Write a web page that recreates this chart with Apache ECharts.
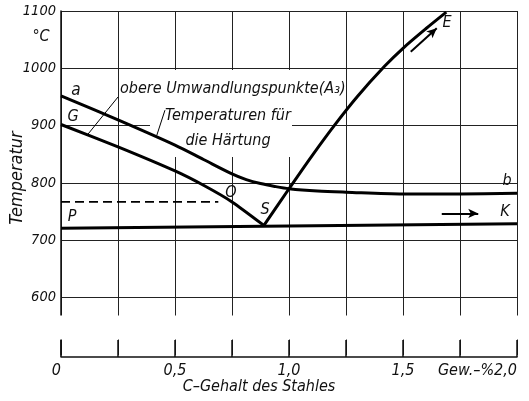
<!DOCTYPE html>
<html>
<head>
<meta charset="utf-8">
<script src="https://cdn.jsdelivr.net/npm/echarts@6/dist/echarts.min.js"></script>
<style>html,body{margin:0;padding:0;background:#fff;}#c{width:529px;height:401px;}</style>
</head>
<body>
<div id="c"></div>
<script>
// ---- data (C-Gehalt in Gew.-%, Temperatur in °C) ----
const aC = [0, 0.25, 0.5, 0.625, 0.75, 0.8125, 0.875, 0.9375, 1.0, 1.125, 1.25, 1.5, 1.75, 2.0];
const aT = [952, 910, 866, 841, 816, 806, 799, 794, 790, 786, 784, 781, 781, 782];
const gC = [0, 0.25, 0.5, 0.625, 0.75, 0.89];
const gT = [902, 863, 821, 796, 767, 726];
const eC = [0.89, 1.0, 1.1, 1.2, 1.3, 1.42, 1.5, 1.6, 1.69];
const eT = [726, 790, 847, 901, 951, 1004, 1035, 1069, 1098];
const kC = [0, 1.0, 2.0];
const kT = [721, 725, 729];
const dashC = [0, 0.69];
const dashT = [767, 767];
const leader1C = [0.25, 0.118];
const leader1T = [950, 885];
const leader2C = [0.456, 0.42];
const leader2T = [927, 883];
const arrowE = [[1.534, 1029], [1.648, 1070]];
const arrowK = [[1.67, 747], [1.83, 747]];
const xLabelValues = [0, 0.5, 1, 1.5, 2];
const xLabelTexts = ['0', '0,5', '1,0', '1,5', 'Gew.–%2,0'];
const yLabelValues = [600, 700, 800, 900, 1000, 1100];

const FF = "'DejaVu Sans Condensed', 'DejaVu Sans', sans-serif";
const pairs = (xs, ys) => xs.map((x, i) => [x, ys[i]]);

const chart = echarts.init(document.getElementById('c'), null, {renderer: 'canvas'});

function txt(text, x, y, size, align, valign, rot) {
  return {
    type: 'text', x: x, y: y, rotation: rot || 0, z: 5,
    style: {
      text: text, fill: '#111', fontFamily: FF, fontStyle: 'italic',
      fontSize: size, textAlign: align || 'center', textVerticalAlign: valign || 'middle'
    }
  };
}

const curveStyle = {color: '#000', width: 3};

const option = {
  animation: false,
  backgroundColor: '#fff',
  grid: {left: 61, right: 12, top: 11, bottom: 46},
  xAxis: {
    type: 'value', min: 0, max: 2, interval: 0.25, offset: 2,
    axisLine: {show: true, lineStyle: {color: '#111', width: 1.5}},
    axisTick: {show: true, inside: true, length: 17, lineStyle: {color: '#111', width: 1.5}},
    axisLabel: {
      color: '#111', fontFamily: FF, fontStyle: 'italic', fontSize: 16, margin: 6,
      alignMinLabel: 'right', alignMaxLabel: 'right',
      formatter: function (v) {
        for (let i = 0; i < xLabelValues.length; i++) {
          if (Math.abs(v - xLabelValues[i]) < 1e-6) return xLabelTexts[i];
        }
        return '';
      }
    },
    splitLine: {show: true, lineStyle: {color: '#222', width: 1}}
  },
  yAxis: {
    type: 'value', min: 500, max: 1100, interval: 100,
    axisLine: {show: true, lineStyle: {color: '#111', width: 1.5}},
    axisTick: {show: false},
    axisLabel: {
      color: '#111', fontFamily: FF, fontStyle: 'italic', fontSize: 14.5, margin: 5,
      formatter: function (v) { return yLabelValues.indexOf(v) >= 0 ? String(v) : ''; }
    },
    splitLine: {show: true, showMinLine: false, lineStyle: {color: '#222', width: 1}}
  },
  series: [
    {type: 'line', data: pairs(aC, aT), symbol: 'none', smooth: 0.3, lineStyle: curveStyle, z: 3},
    {type: 'line', data: pairs(gC, gT), symbol: 'none', smooth: 0.2, lineStyle: curveStyle, z: 3},
    {type: 'line', data: pairs(eC, eT), symbol: 'none', smooth: 0.3, lineStyle: curveStyle, z: 3},
    {type: 'line', data: pairs(kC, kT), symbol: 'none', lineStyle: curveStyle, z: 3,
      markLine: {
        silent: true, animation: false, symbolSize: [7, 10],
        lineStyle: {color: '#000', width: 2, type: 'solid'},
        label: {show: false},
        data: [
          [{coord: arrowE[0], symbol: 'none'}, {coord: arrowE[1], symbol: 'arrow'}],
          [{coord: arrowK[0], symbol: 'none'}, {coord: arrowK[1], symbol: 'arrow'}]
        ]
      }
    },
    {type: 'line', data: pairs(dashC, dashT), symbol: 'none', lineStyle: {color: '#000', width: 1.6, type: [9, 5]}, z: 3},
    {type: 'line', data: pairs(leader1C, leader1T), symbol: 'none', lineStyle: {color: '#000', width: 1}, z: 3},
    {type: 'line', data: pairs(leader2C, leader2T), symbol: 'none', lineStyle: {color: '#000', width: 1}, z: 3}
  ],
  graphic: [
    // white masks (gaps in the grid behind the notes, and between plot and scale)
    {type: 'rect', z: 1, shape: {x: 150, y: 70, width: 142, height: 87}, style: {fill: '#fff'}},
    {type: 'rect', z: 100, shape: {x: 40, y: 315.5, width: 485, height: 24}, style: {fill: '#fff'}},
    txt('°C', 41, 37, 16),
    txt('Temperatur', 17, 178, 18, 'center', 'middle', Math.PI / 2),
    txt('C–Gehalt des Stahles', 259, 387, 16),
    txt('obere Umwandlungspunkte(A₃)', 120, 89, 16, 'left'),
    txt('Temperaturen für', 228, 116, 16),
    txt('die Härtung', 228, 141, 16),
    txt('a', 76, 91, 17),
    txt('G', 73, 117, 16),
    txt('P', 72, 217, 16),
    txt('O', 231, 193, 16),
    txt('S', 265, 210, 16),
    txt('E', 447, 23, 16),
    txt('b', 507, 181, 16),
    txt('K', 505, 212, 16)
  ]
};
chart.setOption(option);
</script>
</body>
</html>
